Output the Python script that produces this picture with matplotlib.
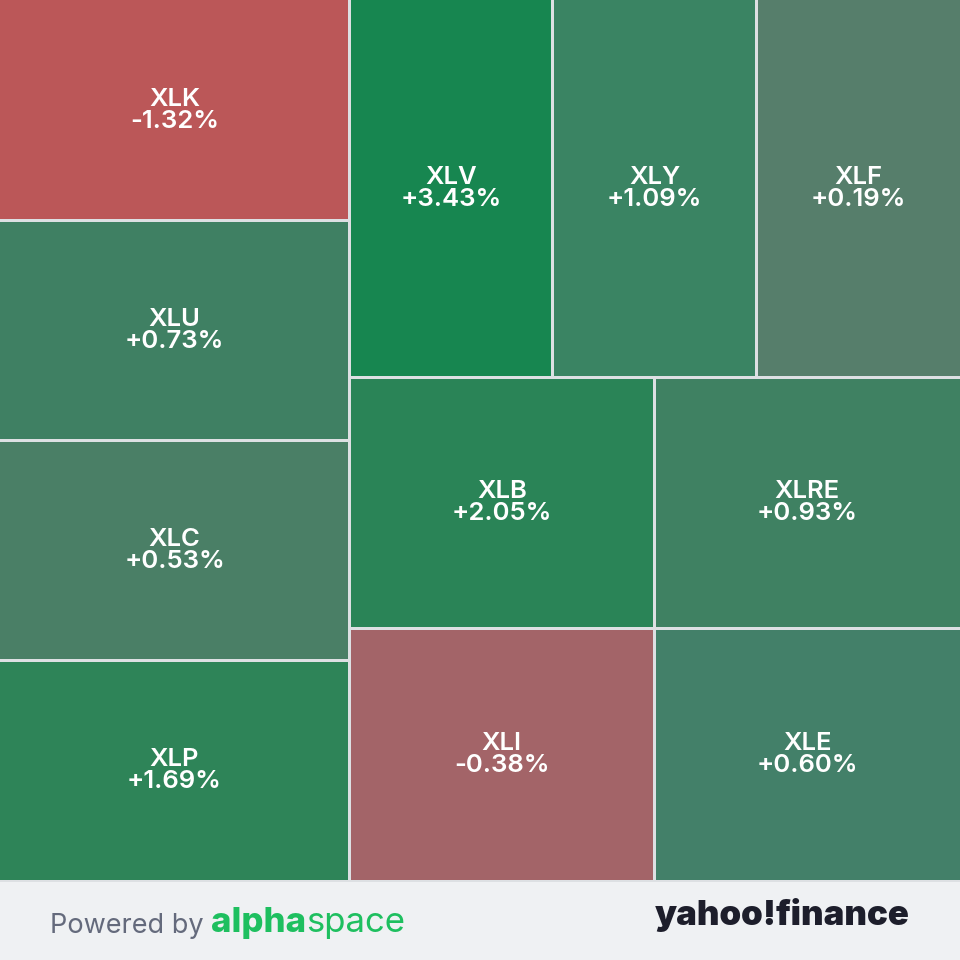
import matplotlib
matplotlib.use("Agg")
import matplotlib.pyplot as plt
from matplotlib.patches import Rectangle

# sector ETFs, all tiles equally weighted
tickers = ["XLK", "XLU", "XLC", "XLP", "XLV", "XLY", "XLF", "XLB", "XLI", "XLRE", "XLE"]
changes = [-1.32, 0.73, 0.53, 1.69, 3.43, 1.09, 0.19, 2.05, -0.38, 0.93, 0.60]
weights = [1] * len(tickers)
tile_colors = ["#bb5758", "#3f8063", "#4a7f66", "#2e8458", "#178650", "#3a8463",
               "#567e6b", "#2a8457", "#a36468", "#3f8162", "#438069"]

W, H = 960, 880          # treemap area, footer below
GAP = 1.5                # half of the gap between tiles
PHI = (1 + 5 ** 0.5) / 2


def squarify(values, x0, y0, x1, y1, ratio=PHI):
    """d3-style squarified treemap, returns list of (x0, y0, x1, y1)."""
    rects = []
    total = float(sum(values))
    i, n = 0, len(values)
    while i < n:
        dx, dy = x1 - x0, y1 - y0
        sum_v = values[i]
        min_v = max_v = values[i]
        alpha = max(dy / dx, dx / dy) / (total * ratio)
        beta = sum_v * sum_v * alpha
        min_ratio = max(max_v / beta, beta / min_v)
        j = i + 1
        while j < n:
            v = values[j]
            s = sum_v + v
            mn, mx = min(min_v, v), max(max_v, v)
            b = s * s * alpha
            r = max(mx / b, b / mn)
            if r > min_ratio:
                break
            sum_v, min_v, max_v, min_ratio = s, mn, mx, r
            j += 1
        row = values[i:j]
        if dx < dy:
            # row along the top
            h = dy * sum_v / total
            xx = x0
            for v in row:
                w = dx * v / sum_v
                rects.append((xx, y0, xx + w, y0 + h))
                xx += w
            y0 += h
        else:
            # column along the left
            w = dx * sum_v / total
            yy = y0
            for v in row:
                h = dy * v / sum_v
                rects.append((x0, yy, x0 + w, yy + h))
                yy += h
            x0 += w
        total -= sum_v
        i = j
    return rects


fig = plt.figure(figsize=(9.6, 9.6), dpi=100)
fig.patch.set_facecolor("#eff1f3")
ax = fig.add_axes([0, 0, 1, 1])
ax.set_xlim(0, 960)
ax.set_ylim(960, 0)
ax.axis("off")

# gap colour shows between the tiles
ax.add_patch(Rectangle((0, 0), W, H + 1.5, facecolor="#dde0e3", edgecolor="none"))

font = "Inter"
for (rx0, ry0, rx1, ry1), tk, ch, col in zip(squarify(weights, 0, 0, W, H),
                                              tickers, changes, tile_colors):
    # only pad the inner sides
    px0 = rx0 + (GAP if rx0 > 0.5 else 0)
    py0 = ry0 + (GAP if ry0 > 0.5 else 0)
    px1 = rx1 - (GAP if rx1 < W - 0.5 else 0)
    py1 = ry1 - (GAP if ry1 < H - 0.5 else 0)
    ax.add_patch(Rectangle((px0, py0), px1 - px0, py1 - py0, facecolor=col,
                           edgecolor="none"))
    cx, cy = (rx0 + rx1) / 2, (ry0 + ry1) / 2
    ax.text(cx, cy - 11, tk, ha="center", va="center", color="white",
            fontsize=18.5, family=font, weight="semibold")
    ax.text(cx, cy + 11, f"{ch:+.2f}%", ha="center", va="center", color="white",
            fontsize=18.5, family=font, weight="semibold")

# footer
t1 = ax.text(50, 933, "Powered by ", ha="left", va="baseline", color="#646a7c",
             fontsize=19.5, family=font)
t2 = ax.annotate("alpha", xy=(1, 0), xycoords=t1, va="bottom", ha="left",
                 color="#1ebf5f", fontsize=25, family=font, weight="heavy")
ax.annotate("space", xy=(1, 0), xycoords=t2, va="bottom", ha="left",
            color="#1ebf5f", fontsize=25, family=font)
ax.text(910, 925, "yahoo!finance", ha="right", va="baseline", color="#1d1e2b",
        fontsize=25, family=font, weight="black")

fig.savefig("out.png", dpi=100, facecolor=fig.get_facecolor())
